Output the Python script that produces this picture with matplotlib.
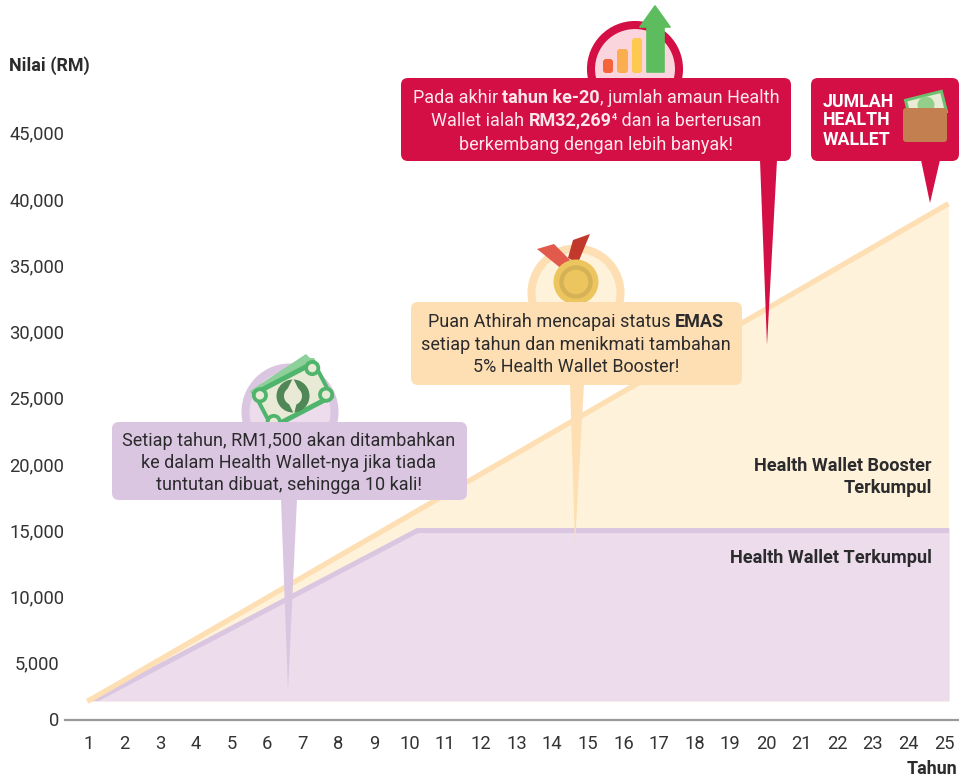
import numpy as np
import matplotlib
matplotlib.use("Agg")
import matplotlib.pyplot as plt
from matplotlib.patches import FancyBboxPatch, Polygon, Circle, Rectangle, Wedge
from matplotlib import transforms as mtrans

plt.rcParams['font.family'] = ['Roboto', 'DejaVu Sans']

# ---------- data ----------
years = list(range(1, 26))
y_ticks = [0, 5000, 10000, 15000, 20000, 25000, 30000, 35000, 40000, 45000]
y_tick_labels = ['0', '5,000', '10,000', '15,000', '20,000', '25,000', '30,000', '35,000', '40,000', '45,000']
booster_x = [0.95, 1, 2, 3, 4, 5, 6, 7, 8, 9, 10, 11, 12, 13, 14, 15, 16, 17, 18, 19, 20, 21, 22, 23, 24, 25, 25.12]
booster_total = [1670, 1750, 3570, 5350, 6900, 8450, 10010, 11560, 13120, 14670, 16230, 17780, 19340, 20890,
                 22450, 24000, 25560, 27110, 28670, 30220, 31780, 33330, 34890, 36440, 38000, 39550, 39740]
wallet_x = [0.97, 10.2, 25.14]
wallet_total = [1700, 15260, 15260]
area_floor = 1700

W, H = 959, 778
C_RED, C_PINK = '#d30f45', '#fbd5de'
C_ORANGE, C_CREAM = '#fddfb3', '#fff2db'
C_PURPLE, C_LILAC = '#dac6e0', '#ecdcec'
C_TEXT = '#2b2a2c'

fig = plt.figure(figsize=(W / 100, H / 100), dpi=100, facecolor='white')

# ---------- main axes ----------
AX_L, AX_R, AX_B = 65, 959, 720
ax = fig.add_axes([AX_L / W, (H - AX_B) / H, (AX_R - AX_L) / W, AX_B / H])

# value axis of the reference is not linear below 5,000
def fwd(v):
    v = np.asarray(v, dtype=float)
    return np.where(v < 5000, v / 5000 * 56.0, 56.0 + (v - 5000) / 5000 * 66.25)
def inv(p):
    p = np.asarray(p, dtype=float)
    return np.where(p < 56.0, p / 56.0 * 5000, 5000 + (p - 56.0) / 66.25 * 5000)
ax.set_yscale('function', functions=(fwd, inv))
ax.set_ylim(0, float(inv(AX_B)))
PX_Y = 35.63
ax.set_xlim(1 + (AX_L - 89) / PX_Y, 1 + (AX_R - 89) / PX_Y)

ax.fill_between(booster_x, area_floor, booster_total, color=C_CREAM, lw=0, zorder=1)
wc = ax.fill_between(wallet_x, area_floor, wallet_total, color=C_LILAC, lw=0, zorder=2)
wl, = ax.plot(wallet_x, wallet_total, color=C_PURPLE, lw=7.2, zorder=3, solid_capstyle='butt', solid_joinstyle='miter')
wl.set_clip_path(wc.get_paths()[0], ax.transData)
ax.plot(booster_x, booster_total, color=C_ORANGE, lw=3.8, zorder=4, solid_capstyle='butt')

for s in ['top', 'right', 'left']:
    ax.spines[s].set_visible(False)
ax.spines['bottom'].set_color('#9b979b')
ax.spines['bottom'].set_linewidth(1.6)
ax.patch.set_alpha(0)
ax.set_xticks(years)
ax.set_yticks(y_ticks, y_tick_labels)
ax.minorticks_off()
ax.tick_params(axis='both', length=0, labelsize=13.2, labelcolor='#333333')
ax.tick_params(axis='x', pad=11)
for t, v in zip(ax.yaxis.get_major_ticks(), y_ticks):
    t.label1.set_va('center_baseline')
    if v == 0:
        t.set_pad(4.0)
    else:
        t.set_pad(20.5)
        t.label1.set_ha('center')
    t.label1.set_transform(t.label1.get_transform() + mtrans.Affine2D().translate(0, 1.2 if v else 0.8))

# ---------- overlay in pixel space: callouts, icons, labels ----------
ov = fig.add_axes([0, 0, 1, 1], zorder=5)
ov.set_xlim(0, W); ov.set_ylim(H, 0); ov.axis('off')

def rbox(x0, y0, x1, y1, color, r=7, z=5):
    ov.add_patch(FancyBboxPatch((x0 + r, y0 + r), x1 - x0 - 2 * r, y1 - y0 - 2 * r,
                                boxstyle=f'round,pad={r},rounding_size={r}', fc=color, ec='none', zorder=z))

def poly(pts, color, z=5, lw=0):
    ov.add_patch(Polygon(pts, closed=True, fc=color, ec=color if lw else 'none', lw=lw, joinstyle='round', zorder=z))

def rot_rect(cx, cy, w, h, ang, color, z):
    tr = mtrans.Affine2D().rotate_deg_around(cx, cy, ang) + ov.transData
    p = Rectangle((cx - w / 2, cy - h / 2), w, h, fc=color, ec='none', zorder=z)
    p.set_transform(tr); ov.add_patch(p)

def rot_pt(cx, cy, dx, dy, ang):
    a = np.deg2rad(ang)
    return cx + dx * np.cos(a) - dy * np.sin(a), cy + dx * np.sin(a) + dy * np.cos(a)

renderer = fig.canvas.get_renderer()
def width(s, weight, size):
    a = ov.text(0, 0, '|' + s + '|', fontsize=size, fontweight=weight)
    b = ov.text(0, 0, '||', fontsize=size, fontweight=weight)
    w = a.get_window_extent(renderer).width - b.get_window_extent(renderer).width
    a.remove(); b.remove()
    return w

def rich(cx, cy, runs, size, color):
    """centred line of (text, weight[, size factor, y shift]) runs"""
    ws = [width(r[0], r[1], size * (r[2] if len(r) > 2 else 1)) for r in runs]
    x = cx - sum(ws) / 2
    for r, w in zip(runs, ws):
        f = r[2] if len(r) > 2 else 1
        dy = r[3] if len(r) > 3 else 0
        ov.text(x, cy + 5.8 + dy, r[0], fontsize=size * f, fontweight=r[1], color=color,
                ha='left', va='baseline', zorder=9)
        x += w

# --- red callout
ov.add_patch(Circle((635, 69), 44, fc=C_PINK, ec=C_RED, lw=5.8, zorder=3))
for x0, x1, top, c in [(603, 613, 58, '#f4633a'), (617, 628, 48, '#fbae4f'), (632, 642, 37, '#fdc94f')]:
    ov.add_patch(FancyBboxPatch((x0 + 2, top + 3), x1 - x0 - 4, 73 - top - 5, boxstyle='round,pad=2,rounding_size=3',
                                fc=c, ec='none', zorder=4))
poly([(647, 72), (647, 27), (640, 27), (655, 6), (670, 27), (664, 27), (664, 72)], '#5dbd5e', 4, lw=1.2)
rbox(401, 78, 791, 161, C_RED)
poly([(760, 160), (777, 160), (767, 345)], C_RED)
SZ = 12.95
rich(596, 97, [('Pada akhir ', 'normal'), ('tahun ke-20', 'bold'), (', jumlah amaun Health', 'normal')], SZ, '#fde7ec')
rich(596, 120, [('Wallet ialah ', 'normal'), ('RM32,269', 'bold'), ('4', 'bold', 0.5, -6), (' dan ia berterusan', 'normal')], SZ, '#fde7ec')
rich(596, 144, [('berkembang dengan lebih banyak!', 'normal')], SZ, '#fde7ec')

# --- total callout with wallet
rbox(811, 78, 959, 161, C_RED)
poly([(921, 160), (940, 160), (930, 203)], C_RED)
for y, s in [(102, 'JUMLAH'), (120, 'HEALTH'), (140, 'WALLET')]:
    ov.text(823, y, s, fontsize=12.8, fontweight='bold', color='white', ha='left', va='center', zorder=9)
rot_rect(926, 106, 40, 24, -14, '#6cc070', 6)
rot_rect(926, 106, 34, 18, -14, '#e8ecd5', 6.1)
ov.add_patch(Circle((926, 105), 8.5, fc='#93cf8a', ec='none', zorder=6.2))
ov.add_patch(FancyBboxPatch((906, 111), 38, 28, boxstyle='round,pad=3,rounding_size=3', fc='#c47f50', ec='none', zorder=7))

# --- gold callout with medal
ov.add_patch(Circle((576, 293), 44.5, fc=C_CREAM, ec=C_ORANGE, lw=5.8, zorder=3))
poly([(537, 249), (554, 244), (572, 262), (563, 270)], '#e25a4c', 4.1)
poly([(573, 240), (590, 234), (578, 263), (568, 258)], '#c0392b', 4)
ov.add_patch(Circle((576, 282), 22.5, fc='#edc55f', ec='none', zorder=4.5))
ov.add_patch(Circle((576, 282), 14.5, fc='none', ec='#d6b257', lw=3.2, zorder=4.6))
rbox(411, 302, 742, 385, C_ORANGE)
poly([(570, 384), (584, 384), (575, 545)], C_ORANGE)
rich(576, 321, [('Puan Athirah mencapai status ', 'normal'), ('EMAS', 'bold')], SZ, C_TEXT)
rich(576, 344, [('setiap tahun dan menikmati tambahan', 'normal')], SZ, C_TEXT)
rich(576, 366, [('5% Health Wallet Booster!', 'normal')], SZ, C_TEXT)

# --- purple callout with banknote
ov.add_patch(Circle((290, 412), 44.5, fc=C_LILAC, ec=C_PURPLE, lw=5.8, zorder=3))
AN = -27.5
cx, cy = 293, 395
poly([(250, 391), (306, 354), (310, 358), (314, 358), (318, 366), (254, 398)], '#8ed09a', 3.6)
rot_rect(cx, cy, 71, 43, AN, '#4fb56d', 4)
rot_rect(cx, cy, 63, 33, AN, '#e9ead5', 4.1)
for dx, dy in [(-29.5, -15), (29.5, -15), (-29.5, 15), (29.5, 15)]:
    px, py = rot_pt(cx, cy, dx, dy, AN)
    ov.add_patch(Circle((px, py), 8, fc='#4fb56d', ec='none', zorder=4.15))
    ov.add_patch(Circle((px, py), 4.2, fc='#e9ead5', ec='none', zorder=4.2))
ov.add_patch(Wedge((cx, cy + 1), 16.5, 0, 360, width=7.5, fc='#4f8757', ec='none', zorder=4.3))
poly([(cx - 6, cy - 5), (cx, cy - 17), (cx + 6, cy - 5)], '#e9ead5', 4.4)
poly([(cx - 5, cy + 7), (cx + 1, cy + 19), (cx + 4, cy + 7)], '#e9ead5', 4.4)
rbox(112, 422, 467, 500, C_PURPLE)
poly([(281, 499), (297, 499), (288, 690)], C_PURPLE)
rich(289, 440, [('Setiap tahun, RM1,500 akan ditambahkan', 'normal')], SZ, C_TEXT)
rich(289, 462, [('ke dalam Health Wallet-nya jika tiada', 'normal')], SZ, C_TEXT)
rich(289, 484, [('tuntutan dibuat, sehingga 10 kali!', 'normal')], SZ, C_TEXT)

# --- plain labels
kw = dict(fontweight='bold', color=C_TEXT, va='center', zorder=9)
ov.text(9, 66, 'Nilai (RM)', fontsize=12.9, ha='left', **kw)
ov.text(957.5, 769, 'Tahun', fontsize=12.9, ha='right', **kw)
ov.text(932, 466, 'Health Wallet Booster', fontsize=13.1, ha='right', **kw)
ov.text(932, 488, 'Terkumpul', fontsize=13.1, ha='right', **kw)
ov.text(932, 558, 'Health Wallet Terkumpul', fontsize=13.1, ha='right', **kw)

fig.savefig('out.png', dpi=100)
